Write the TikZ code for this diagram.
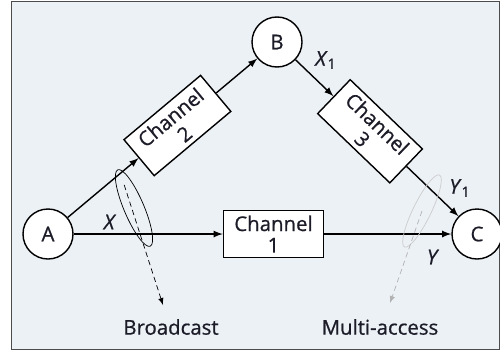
\documentclass[tikz,border=0pt]{standalone}
\usepackage{fontspec}
\setmainfont{Open Sans}[FakeBold=0.7]
\usetikzlibrary{shapes,arrows,calc}
\definecolor{panel}{RGB}{236,241,246}
\definecolor{ink}{RGB}{28,28,40}
\tikzset{%
	block/.style    = {draw, thick, rectangle, fill=white, minimum height = 0.94cm,
		minimum width = 2cm, align=center, inner sep=1pt},
	station/.style  = {draw, thick, circle, fill=white, minimum size = 1cm, inner sep=0pt}, % Terminal
	link/.style     = {thick, -latex},
	group/.style    = {draw, ellipse, minimum width = 1.66cm, minimum height = 0.4cm, inner sep=0pt},
	pointer/.style  = {densely dashed, -latex}
}

\begin{document}
\begin{tikzpicture}[font=\fontsize{11.6}{12.2}\selectfont, text=ink]
			\useasboundingbox (0,0) rectangle (10,7.12);
			\draw[gray!60!black, fill=panel] (0.22,0.14) rectangle (9.98,7.1);

			\node[station]   (A)    at (0.96,2.44) {A} ;
			\node[station]   (B)    at (5.54,6.28) {B} ;
			\node[station]   (C)    at (9.54,2.44) {C} ;
			\node[block]     (ch1)  at (5.47,2.44) {Channel\\1} ;
			\node[block, rotate=40]    (ch2) at ($(A)!0.565!(B)$) {Channel\\2} ;
			\node[block, rotate=-43.8] (ch3) at ($(B)!0.465!(C)$) {Channel\\3} ;

			\draw[link] (A) -- (ch2);
			\draw[link] (ch2) -- (B);
			\draw[link] (B) -- (ch3);
			\draw[link] (ch3) -- (C);
			\draw[link] (A) -- (ch1);
			\draw[link] (ch1) -- (C);

			\node (x)   at (2.2,2.68)  {\textit{X}} ;
			\node (x1)  at (6.52,5.92) {\textit{X}\textsubscript{1}} ;
			\node (y1)  at (9.2,3.36)  {\textit{Y}\textsubscript{1}} ;
			\node (y)   at (8.66,1.98) {\textit{Y}} ;

			\node[group, rotate=113] (bcast) at (2.68,2.96) {} ;
			\node[group, draw=gray!40, rotate=64, minimum width = 1.6cm,
				minimum height = 0.36cm] (macc) at (8.44,2.9) {} ;

			\node (bctext) at (3.42,0.58) {Broadcast} ;
			\node (matext) at (7.6,0.58)  {Multi-access} ;
			\coordinate (bcstart) at ($(bcast.center)!0.6!(bcast.east)$);
			\coordinate (bctip) at (3.26,1.02);
			\coordinate (matip) at (7.8,1.06);

			\draw[pointer] (bcstart) -- (bctip);
			\draw[pointer, gray!60] (macc.center) -- (matip);
		\end{tikzpicture}
\end{document}
